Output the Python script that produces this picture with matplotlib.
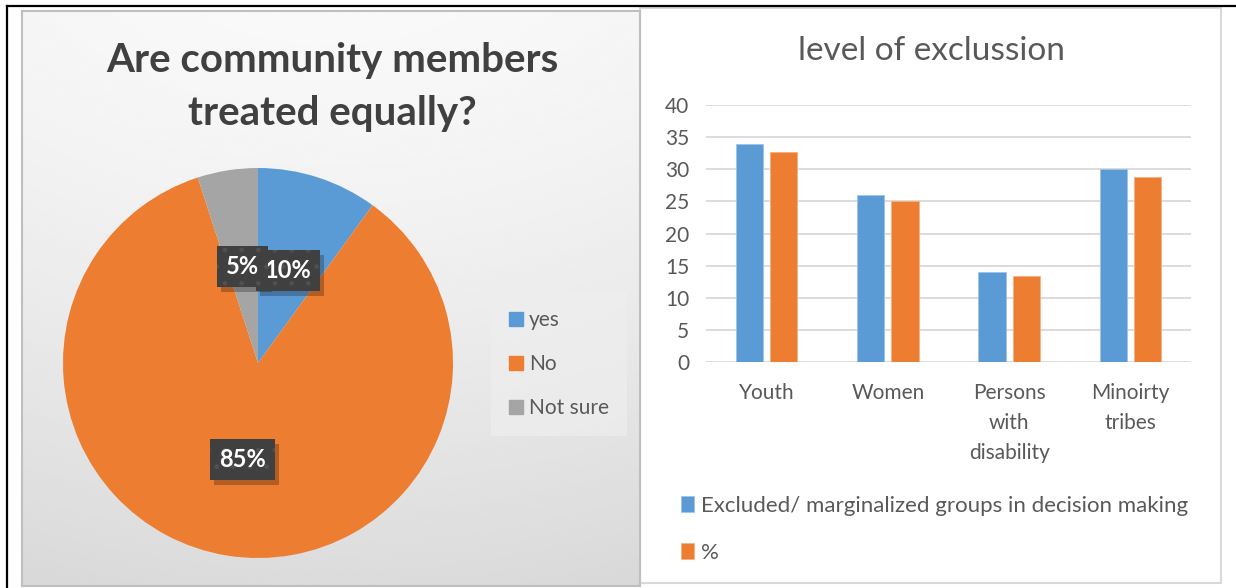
import numpy as np
import matplotlib.pyplot as plt
import matplotlib.patches as mpatches
from matplotlib.lines import Line2D
from matplotlib import transforms

W, H, DPI = 1236, 588, 100


def fx(x):
    return x / W


def fy(y):
    return 1 - y / H


def rect(x0, y0, x1, y1):
    # pixel box (top-left origin) -> figure fraction [left, bottom, width, height]
    return [fx(x0), fy(y1), (x1 - x0) / W, (y1 - y0) / H]


# --- data ---
pie_labels = ['yes', 'No', 'Not sure']
pie_values = [10, 85, 5]

bar_categories = ['Youth', 'Women', 'Persons\nwith\ndisability', 'Minoirty\ntribes']
excluded_counts = [34, 26, 14, 30]
excluded_pct = [32.7, 25.0, 13.4, 28.8]

BLUE = '#5B9BD5'
ORANGE = '#ED7D31'
GRAY = '#A5A5A5'
TEXT = '#595959'
TITLE_DARK = '#404040'
GRID = '#D9D9D9'

plt.rcParams['font.family'] = ['Lato', 'DejaVu Sans']

fig = plt.figure(figsize=(W / DPI, H / DPI), dpi=DPI)
fig.patch.set_facecolor('white')

# ---------- left panel: pie ----------
bg = fig.add_axes(rect(22, 11, 640, 586))
ny = np.linspace(0, 1, 300)[:, None]
nx = np.linspace(-1, 1, 300)[None, :]
shade = 0.975 - 0.115 * ny ** 1.4 - 0.012 * nx ** 2
bg.imshow(shade, cmap='gray', vmin=0, vmax=1, aspect='auto',
          extent=[0, 1, 0, 1], interpolation='bicubic')
bg.set_xticks([])
bg.set_yticks([])
for s in bg.spines.values():
    s.set_color('#BFBFBF')
    s.set_linewidth(1.5)

fig.text(fx(332), fy(87), 'Are community members\ntreated equally?',
         ha='center', va='center', fontsize=29, fontweight='bold',
         color=TITLE_DARK, linespacing=1.55)

ax = fig.add_axes(rect(258 - 195, 363 - 195, 258 + 195, 363 + 195))
wedges, _, pcts = ax.pie(pie_values, colors=[BLUE, ORANGE, GRAY],
                         startangle=90, counterclock=False,
                         autopct=lambda p: f'{p:.0f}%', pctdistance=0.5,
                         wedgeprops=dict(linewidth=0))
ax.set_xlim(-1, 1)
ax.set_ylim(-1, 1)
ax.set_zorder(2)

shadow_tr = transforms.offset_copy(ax.transData, fig=fig, x=4, y=-5, units='dots')
for t in pcts:
    x, y = t.get_position()
    ax.text(x, y, t.get_text(), transform=shadow_tr, ha='center', va='center',
            fontsize=17, fontweight='bold', color='none', zorder=2,
            bbox=dict(boxstyle='square,pad=0.38', facecolor='black',
                      alpha=0.25, linewidth=0))
    t.set_fontsize(17)
    t.set_fontweight('bold')
    t.set_color('white')
    t.set_zorder(3)
    t.set_bbox(dict(boxstyle='square,pad=0.38', facecolor='#404040',
                    edgecolor='#505050', hatch='.', linewidth=0))

fig.legend(handles=[mpatches.Patch(color=c, label=l)
                    for c, l in zip([BLUE, ORANGE, GRAY], pie_labels)],
           loc='center', bbox_to_anchor=(fx(559), fy(364)),
           frameon=True, facecolor='#EEEEEE', edgecolor='none', framealpha=0.7,
           fancybox=False, fontsize=15, labelcolor=TEXT,
           handlelength=0.65, handleheight=0.65, handletextpad=0.3,
           labelspacing=1.15, borderpad=0.85)

# ---------- right panel: bars ----------
fig.add_artist(mpatches.Rectangle((fx(640), fy(583)), (1221 - 640) / W, (583 - 8) / H,
                                  transform=fig.transFigure, facecolor='white',
                                  edgecolor=GRID, linewidth=1.5, zorder=0))

fig.text(fx(931), fy(51), 'level of exclussion', ha='center', va='center',
         fontsize=24, color=TEXT)

ax2 = fig.add_axes(rect(706, 105, 1191, 362))
x = np.arange(len(bar_categories))
bw = 0.225
ax2.bar(x - 0.142, excluded_counts, bw, color=BLUE, edgecolor='#9DC3E6',
        linewidth=0.6, label='Excluded/ marginalized groups in decision making')
ax2.bar(x + 0.142, excluded_pct, bw, color=ORANGE, edgecolor='#F4B183',
        linewidth=0.6, label='%')
ax2.set_xlim(-0.5, 3.5)
ax2.set_ylim(0, 40)
ax2.set_yticks(range(0, 41, 5))
ax2.set_xticks(x)
ax2.set_xticklabels(bar_categories, linespacing=1.62)
ax2.yaxis.grid(True, color=GRID, linewidth=1.3)
ax2.set_axisbelow(True)
for s in ax2.spines.values():
    s.set_visible(False)
ax2.tick_params(axis='both', length=0, labelsize=15, colors=TEXT)
ax2.tick_params(axis='y', pad=12)
ax2.tick_params(axis='x', pad=15)
ax2.patch.set_alpha(0)

handles, labels = ax2.get_legend_handles_labels()
fig.legend(handles=handles, labels=labels,
           loc='upper left', bbox_to_anchor=(fx(661), fy(476)),
           frameon=False, fontsize=16, labelcolor=TEXT,
           handlelength=0.6, handleheight=0.7, handletextpad=0.3,
           labelspacing=1.2)

# outer frame
fig.add_artist(Line2D([fx(7), 1], [fy(5.7), fy(5.7)], color='black', lw=1.6,
                      transform=fig.transFigure))
fig.add_artist(Line2D([fx(7), fx(7)], [fy(5.7), 0], color='black', lw=1.6,
                      transform=fig.transFigure))

fig.savefig('out.png', dpi=DPI, facecolor='white')
